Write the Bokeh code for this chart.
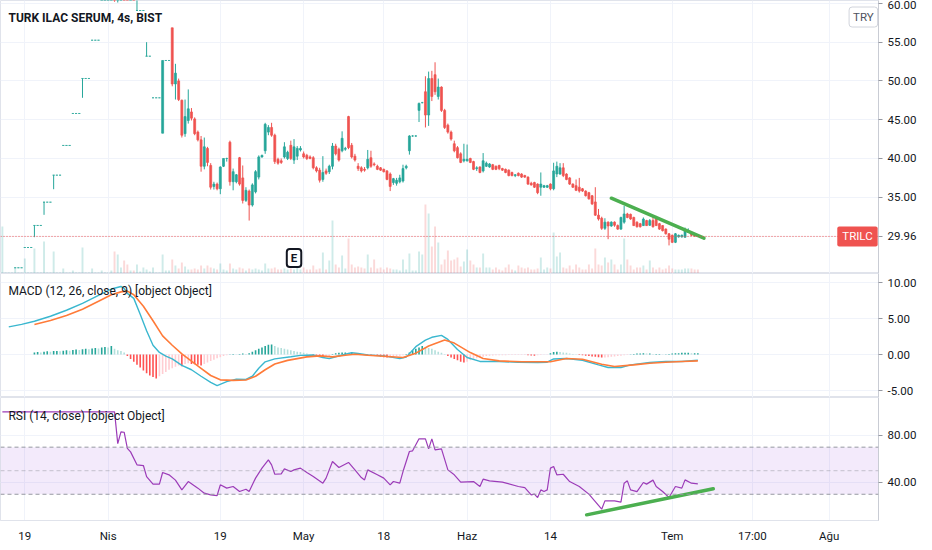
import numpy as np
from bokeh.plotting import figure
from bokeh.models import (ColumnDataSource, Range1d, FixedTicker, NumeralTickFormatter,
                          Span, Label, BoxAnnotation)
from bokeh.layouts import column
from bokeh.embed import file_html
from bokeh.resources import INLINE

# ---------------- data (4h bars, index = bar number) ----------------
open_ = [
    23.56, 23.56, 23.56, 23.56, 25.92, 25.92, 25.92, 28.53, 28.53, 28.53,
    31.37, 31.37, 31.37, 34.37, 34.37, 34.37, 37.85, 37.85, 37.85, 41.68,
    41.68, 41.68, 45.8, 45.8, 45.8, 50.31, 50.31, 50.31, 55.24, 55.24,
    55.24, 60.76, 60.76, 60.76, 61.0, 64.0, 61.0, 62.5, 63.5, 62.5,
    61.8, 62.3, 59.07, 59.07, 59.07, 53.18, 53.18, 47.82, 47.82, 47.82,
    43.26, 52.63, 52.63, 56.84, 49.6, 50.0, 47.5, 43.2, 44.9, 46.0,
    45.1, 43.4, 42.4, 39.0, 41.3, 39.1, 36.4, 36.7, 36.1, 39.0,
    40.0, 42.1, 37.0, 37.0, 40.1, 37.5, 34.6, 35.8, 34.0, 35.7,
    37.6, 40.2, 41.0, 43.4, 44.0, 43.0, 39.9, 39.7, 40.2, 40.0,
    41.7, 39.8, 40.3, 41.1, 40.6, 40.4, 40.2, 40.1, 38.8, 38.5,
    37.3, 38.4, 38.3, 39.0, 41.6, 41.2, 41.0, 41.2, 45.4, 41.7,
    40.3, 39.0, 38.8, 38.6, 38.8, 40.1, 39.3, 39.0, 38.8, 38.6,
    38.4, 38.0, 36.9, 36.8, 37.0, 37.1, 38.8, 41.0, 42.9, 42.9,
    46.2, 47.2, 48.6, 45.6, 50.3, 50.8, 48.0, 49.2, 46.2, 44.3,
    43.4, 41.9, 41.4, 40.6, 39.7, 39.7, 40.0, 39.6, 38.7, 38.9,
    38.4, 39.0, 38.9, 39.2, 39.0, 39.1, 38.7, 38.6, 38.5, 38.2,
    37.8, 38.1, 38.0, 37.8, 37.6, 36.8, 36.9, 36.7, 36.3, 36.3,
    36.3, 36.7, 36.1, 38.0, 38.0, 38.8, 38.0, 37.5, 36.7, 36.5,
    36.3, 36.1, 35.8, 35.6, 35.2, 34.4, 32.7, 32.3, 31.0, 31.8,
    31.3, 31.8, 31.35, 30.9, 31.8, 32.85, 32.8, 32.4, 31.8, 31.6,
    31.35, 32.0, 31.4, 32.0, 32.2, 31.6, 31.35, 30.9, 30.3, 30.1,
    29.2, 29.9, 29.9, 29.85, 30.5, 30.5, 30.3, 30.06,
]
high_ = [
    23.56, 23.56, 23.56, 23.56, 25.92, 25.92, 25.92, 28.53, 28.53, 28.53,
    31.37, 31.37, 31.37, 34.37, 34.37, 34.37, 37.85, 37.85, 37.85, 41.68,
    41.68, 41.68, 45.8, 45.8, 45.8, 50.31, 50.31, 50.31, 55.24, 55.24,
    55.24, 60.76, 60.76, 60.76, 66.8, 65.0, 63.0, 64.0, 64.5, 63.5,
    63.0, 63.0, 62.0, 59.07, 59.07, 54.99, 53.18, 47.82, 47.82, 47.82,
    52.63, 52.63, 52.63, 56.84, 52.2, 50.3, 47.6, 47.6, 48.9, 46.5,
    45.3, 43.6, 42.9, 42.7, 41.5, 39.4, 37.0, 36.9, 39.0, 40.0,
    40.1, 42.3, 38.7, 38.0, 40.2, 39.1, 36.3, 36.0, 36.8, 38.5,
    40.4, 40.5, 44.6, 44.3, 44.6, 43.2, 40.1, 40.0, 42.1, 41.0,
    42.3, 42.5, 41.6, 41.6, 40.9, 40.6, 40.4, 40.3, 39.0, 38.8,
    40.3, 38.7, 39.2, 42.0, 41.9, 41.4, 43.5, 41.5, 45.5, 42.0,
    40.6, 39.4, 39.0, 38.9, 41.1, 41.0, 39.5, 39.2, 38.9, 38.7,
    38.5, 38.2, 37.5, 37.5, 37.9, 39.2, 39.2, 43.0, 43.0, 43.0,
    47.2, 47.3, 50.6, 51.2, 51.3, 52.4, 50.3, 49.3, 46.4, 44.5,
    43.6, 42.3, 41.6, 40.8, 41.9, 41.8, 40.1, 39.7, 39.0, 39.0,
    40.7, 39.6, 39.4, 39.3, 39.1, 39.2, 38.8, 38.7, 38.6, 38.3,
    38.0, 38.2, 38.1, 37.9, 37.7, 37.0, 37.0, 36.8, 38.2, 36.6,
    36.6, 36.8, 39.45, 39.6, 39.4, 39.4, 38.1, 37.6, 36.8, 37.3,
    37.5, 36.2, 35.9, 35.7, 35.3, 36.3, 33.5, 32.5, 32.3, 31.9,
    31.9, 31.9, 31.5, 32.5, 33.9, 33.0, 32.9, 32.5, 31.9, 31.7,
    32.4, 32.1, 32.2, 32.6, 32.6, 31.7, 31.4, 31.0, 30.4, 30.2,
    30.4, 30.2, 30.2, 31.1, 31.0, 30.6, 30.4, 30.1,
]
low_ = [
    23.56, 23.56, 23.56, 23.56, 25.92, 25.92, 25.92, 28.53, 28.53, 28.53,
    29.86, 31.37, 31.37, 32.74, 34.37, 34.37, 36.04, 37.85, 37.85, 41.68,
    41.68, 41.68, 45.8, 45.8, 45.8, 47.82, 50.31, 50.31, 55.24, 55.24,
    55.24, 60.76, 60.76, 60.76, 60.6, 60.2, 60.1, 61.5, 62.0, 61.0,
    61.0, 61.2, 59.07, 59.07, 59.07, 53.18, 53.18, 47.82, 47.82, 47.82,
    43.26, 52.63, 52.63, 49.3, 47.6, 47.4, 42.7, 42.8, 44.5, 44.9,
    43.0, 42.2, 38.3, 38.6, 39.0, 36.0, 36.0, 35.9, 35.4, 38.9,
    39.6, 36.5, 35.9, 36.8, 36.5, 34.2, 34.4, 32.0, 33.8, 35.5,
    37.3, 40.1, 40.6, 43.0, 42.8, 39.3, 39.2, 39.3, 40.0, 39.8,
    39.8, 39.3, 39.8, 40.9, 40.0, 39.8, 39.9, 38.6, 38.2, 36.9,
    37.0, 37.9, 38.0, 38.6, 40.4, 39.6, 40.8, 41.0, 41.2, 40.0,
    39.6, 38.4, 38.2, 38.3, 38.6, 38.8, 39.0, 38.5, 38.4, 38.2,
    37.2, 35.8, 36.6, 36.5, 36.8, 36.9, 38.6, 40.5, 42.8, 42.8,
    44.7, 47.1, 44.0, 44.2, 47.4, 48.2, 47.6, 46.0, 43.8, 43.2,
    42.3, 40.8, 40.0, 39.4, 39.5, 39.6, 39.4, 38.5, 38.4, 38.1,
    38.2, 38.9, 38.8, 38.5, 38.5, 38.5, 38.4, 38.1, 37.7, 37.7,
    37.6, 37.7, 37.5, 37.5, 36.6, 36.5, 36.2, 35.4, 35.2, 36.2,
    36.2, 35.9, 35.9, 37.6, 37.9, 37.6, 37.2, 36.6, 36.2, 35.8,
    35.6, 35.7, 35.1, 34.7, 34.0, 32.6, 32.0, 30.8, 30.8, 29.6,
    31.2, 31.2, 30.8, 30.8, 31.6, 32.3, 32.1, 31.3, 31.1, 31.1,
    31.3, 31.3, 31.3, 31.1, 31.3, 30.8, 30.6, 30.2, 28.8, 29.1,
    29.1, 29.8, 29.8, 29.8, 30.4, 30.0, 29.9, 29.9,
]
close_ = [
    23.56, 23.56, 23.56, 23.56, 25.92, 25.92, 25.92, 28.53, 28.53, 28.53,
    31.37, 31.37, 31.37, 34.37, 34.37, 34.37, 37.85, 37.85, 37.85, 41.68,
    41.68, 41.68, 45.8, 45.8, 45.8, 50.31, 50.31, 50.31, 55.24, 55.24,
    55.24, 60.76, 60.76, 60.76, 64.0, 61.0, 62.5, 63.5, 62.5, 61.8,
    62.3, 61.5, 59.07, 59.07, 59.07, 53.18, 53.18, 47.82, 47.82, 47.82,
    52.63, 52.63, 52.63, 49.6, 51.0, 47.6, 43.0, 45.4, 46.4, 45.2,
    43.2, 42.4, 39.0, 41.5, 39.5, 36.3, 36.7, 36.1, 38.9, 40.0,
    40.0, 37.0, 38.3, 37.9, 36.7, 34.6, 35.9, 34.0, 36.6, 38.3,
    40.2, 40.4, 44.4, 44.0, 43.0, 39.6, 39.4, 39.5, 41.5, 40.8,
    40.0, 41.5, 41.3, 41.3, 40.2, 40.0, 40.0, 38.8, 38.4, 37.2,
    38.2, 38.1, 39.0, 41.6, 40.6, 39.8, 42.6, 41.3, 41.4, 40.2,
    39.8, 38.7, 38.4, 38.5, 39.9, 39.0, 39.2, 38.6, 38.5, 38.3,
    37.3, 36.4, 37.4, 37.2, 37.5, 38.7, 39.0, 42.9, 42.9, 42.9,
    47.1, 47.2, 45.6, 50.3, 48.0, 48.6, 49.2, 46.2, 44.0, 43.4,
    42.5, 41.0, 40.1, 39.5, 39.9, 39.9, 39.5, 38.6, 38.8, 38.2,
    39.7, 39.4, 39.3, 38.6, 38.6, 38.7, 38.5, 38.2, 37.8, 37.8,
    37.9, 37.8, 37.6, 37.6, 36.7, 36.6, 36.3, 35.6, 36.7, 36.5,
    36.5, 36.1, 38.4, 39.0, 38.8, 37.8, 37.3, 36.7, 36.3, 35.9,
    35.8, 35.8, 35.2, 34.8, 34.15, 32.7, 32.2, 31.0, 31.8, 31.3,
    31.8, 31.4, 30.9, 32.4, 32.85, 32.4, 32.2, 31.35, 31.2, 31.2,
    32.2, 31.35, 32.0, 31.2, 31.35, 30.9, 30.7, 30.3, 29.6, 29.2,
    30.3, 30.1, 30.1, 30.7, 30.7, 30.1, 30.0, 29.96,
]
volume = [
    47, 1, 1, 1, 6, 1, 1, 15, 1, 1,
    25, 1, 1, 32, 1, 1, 22, 1, 1, 5,
    1, 1, 3, 1, 1, 26, 1, 1, 5, 1,
    1, 3, 1, 1, 3, 22, 19, 6, 13, 9,
    3, 3, 9, 2, 6, 4, 2, 6, 1, 1,
    19, 3, 3, 14, 8, 5, 11, 7, 4, 4,
    5, 4, 8, 5, 8, 6, 5, 4, 10, 4,
    3, 10, 5, 4, 6, 5, 3, 5, 4, 5,
    4, 3, 10, 5, 5, 6, 4, 4, 5, 4,
    5, 4, 6, 4, 6, 4, 4, 8, 4, 5,
    21, 4, 13, 53, 9, 6, 18, 5, 35, 9,
    6, 7, 6, 5, 19, 6, 14, 5, 6, 4,
    6, 5, 4, 4, 3, 14, 4, 20, 3, 3,
    22, 19, 69, 60, 27, 47, 31, 9, 14, 23,
    13, 14, 16, 7, 12, 24, 13, 9, 6, 6,
    20, 6, 6, 4, 6, 4, 3, 6, 9, 4,
    3, 8, 6, 5, 6, 4, 4, 5, 16, 4,
    6, 5, 41, 17, 21, 6, 5, 8, 4, 9,
    6, 4, 4, 9, 5, 25, 9, 8, 16, 11,
    14, 9, 4, 9, 35, 14, 8, 4, 6, 6,
    8, 4, 13, 6, 4, 6, 4, 5, 8, 5,
    4, 4, 4, 5, 5, 5, 4, 4,
]

# MACD histogram, one value per bar starting at bar 10
hist_start = 10
macd_hist = [
    0.3, 0.35, 0.3, 0.4, 0.45, 0.4, 0.5,
    0.5, 0.45, 0.55, 0.6, 0.55, 0.65, 0.7,
    0.65, 0.75, 0.8, 0.75, 0.85, 0.9, 0.85,
    1.0, 1.05, 1.0, 1.2,
    0.8, 0.6, 0.5, 0.3,
    -0.2, -0.6, -1.0, -1.4, -1.8, -2.2, -2.6, -2.9, -3.1, -3.3,
    -3.0, -2.7, -2.4, -2.1, -1.9, -1.7, -1.5,
    -1.6, -1.3, -1.2, -1.3, -1.35, -1.4, -1.5, -1.3, -1.1,
    -0.9, -0.7, -0.5, -0.35, -0.2, -0.1,
    0.05, 0.1, 0.05, 0.1, 0.15, 0.1,
    0.2, 0.4, 0.6, 0.8, 1.0, 1.2, 1.35, 1.4,
    1.2, 1.0, 0.9, 0.8, 0.7, 0.6, 0.5, 0.4, 0.35, 0.25, 0.15, 0.05,
    -0.1, -0.2, -0.3, -0.35, -0.3, -0.2,
    0.1, 0.2, 0.25, 0.3, 0.3, 0.25, 0.3, 0.2, 0.15, 0.1,
    0.05, -0.05, -0.1, -0.1,
    -0.2, -0.3, -0.35, -0.4, -0.35, -0.3,
    -0.2, -0.15, -0.1,
    0.1, 0.3, 0.6, 0.8, 1.0, 1.2,
    1.0, 0.9, 0.8, 0.6, 0.4, 0.25, 0.1,
    -0.2, -0.4, -0.6, -0.8, -1.0, -1.1,
    -1.0, -0.8, -0.6, -0.5, -0.4, -0.3, -0.2,
    -0.15, -0.12, -0.1, -0.1, -0.08, -0.08, -0.06, -0.06, -0.05, -0.05, -0.05, -0.04, -0.1, -0.12,
    -0.15, -0.1, -0.05, -0.03, -0.02,
    0.2, 0.35, 0.4, 0.35, 0.3,
    0.25, 0.15, 0.1, 0.05,
    -0.05, -0.1, -0.15, -0.2, -0.25, -0.3, -0.35, -0.4, -0.4,
    -0.35, -0.3, -0.25, -0.2, -0.15, -0.1, -0.05,
    0.05, 0.1, 0.15, 0.15, 0.2, 0.15, 0.15, 0.1, 0.1, 0.1, 0.05, 0.05,
    0.1, 0.15, 0.2, 0.2, 0.25, 0.25, 0.25, 0.2, 0.2, 0.2,
]

macd_x = [2, 6, 10, 15, 20, 25, 30, 34, 37, 38, 39, 41, 43, 45, 47, 49, 51, 53, 56, 59,
          62, 65, 67, 70, 73, 76, 78, 80, 82, 85, 90, 93, 97, 100, 102, 104, 107, 109, 111, 114,
          119, 124, 126, 129, 132, 134, 137, 139, 142, 145, 149, 155, 161, 167, 170, 172, 176, 181, 186, 189,
          193, 196, 202, 207, 212, 217]
macd_line = [3.85, 4.2, 4.63, 5.32, 6.15, 7.1, 8.2, 9.1, 9.45, 9.2, 8.5, 7.8, 5.6, 3.3, 1.3, 0.3, -0.2, -0.6, -1.5, -2.1,
             -3.0, -3.85, -4.3, -3.75, -3.4, -3.45, -3.0, -1.9, -1.0, -0.6, -0.3, -0.1, -0.05, -0.4, -0.55, -0.3, 0.05, 0.25, 0.15, -0.05,
             -0.18, -0.55, -0.35, 1.1, 2.0, 2.4, 2.66, 2.1, 0.7, -0.4, -0.95, -0.96, -1.06, -1.1, -1.06, -0.6, -0.55, -0.78, -1.42, -1.79,
             -1.79, -1.42, -1.1, -0.96, -0.96, -0.78]
signal_x = [10, 15, 20, 25, 30, 34, 37, 39, 41, 44, 47, 50, 53, 56, 59, 62, 65, 68, 72, 76,
            79, 82, 85, 89, 95, 99, 103, 107, 110, 114, 119, 125, 129, 133, 138, 141, 146, 150, 155, 162,
            171, 176, 181, 187, 191, 197, 202, 207, 212, 217]
signal_line = [4.17, 4.72, 5.41, 6.3, 7.4, 8.3, 8.7, 8.8, 8.3, 6.7, 4.7, 2.6, 1.3, 0.1, -0.9, -1.9, -2.9, -3.5, -3.58, -3.53,
               -3.0, -2.1, -1.3, -0.8, -0.32, -0.18, -0.32, -0.1, 0.05, -0.09, -0.23, -0.41, 0.2, 1.2, 2.02, 1.6, 0.28, -0.55, -0.87, -1.0,
               -1.0, -0.55, -0.64, -1.33, -1.65, -1.42, -1.19, -1.06, -0.96, -0.87]

rsi_x = [0, 35, 36, 37, 38, 39, 40, 42, 44, 45, 47, 49, 50, 52, 54, 56, 58, 61, 63, 65,
         67, 68, 70, 72, 74, 76, 77, 79, 81, 83, 84, 85, 87, 88, 90, 91, 93, 95, 97, 100,
         101, 103, 105, 108, 110, 112, 113, 114, 117, 119, 121, 122, 124, 125, 127, 128, 130, 132, 133, 134,
         135, 137, 139, 141, 143, 147, 149, 150, 152, 156, 161, 163, 165, 166, 167, 168, 169, 170, 171, 172,
         173, 175, 177, 180, 183, 185, 187, 188, 191, 193, 194, 195, 196, 198, 200, 201, 203, 204, 206, 208,
         210, 212, 213, 215, 217]
rsi_v = [100, 100, 73, 83, 82.7, 69, 66, 55, 54.4, 45, 38.6, 38.6, 48.5, 46.5, 42, 33.7, 40.8, 35.2, 30.9, 29.5,
         28.9, 38, 35.2, 36.6, 32.3, 34.3, 32.3, 43.7, 52.2, 59.2, 55, 47, 47.3, 51.6, 49.3, 50.7, 52.2, 48.5, 45.1, 39.4,
         43.7, 57.8, 52.7, 57, 50.7, 44.2, 42.2, 50.7, 46.5, 43.7, 38, 40.8, 39.4, 49.3, 66.3, 66.9, 77.1, 77.1, 68.6, 77.1,
         67.7, 68.6, 50.7, 46.5, 40.3, 40.8, 36.6, 42.8, 41.4, 40.3, 36.6, 35.7, 29.5, 30.1, 27.2, 33.7, 32.3, 33.7, 52.2, 53.6,
         46.5, 47, 40.8, 36.6, 30.1, 23.8, 17.3, 24.4, 24.4, 23.3, 39.4, 41.4, 33.7, 32.3, 40, 38.6, 42, 36.6, 32.3, 27.2,
         36.6, 35.2, 42.2, 39.4, 38.8]

# hand-drawn trend lines (bar index, value)
trend_price_x = [190.0, 218.9]
trend_price_y = [34.88, 29.73]
trend_rsi_x = [182.3, 221.8]
trend_rsi_y = [12.5, 34.6]

xtick_pos = [7, 33, 68, 94, 119, 145, 171, 209, 234, 258]
xtick_labels = ["19", "Nis", "19", "May", "18", "Haz", "14", "Tem", "17:00", "Ağu"]
last_price = close_[-1]
price_ticks = [last_price, 35, 40, 45, 50, 55, 60]
macd_ticks = [-5, 0, 5, 10]
rsi_ticks = [40, 80]
earnings_bar = 91
symbol = "TRILC"
currency = "TRY"
title_text = "TURK ILAC SERUM, 4s, BIST"
macd_title = "MACD (12, 26, close, 9) [object Object]"
rsi_title = "RSI (14, close) [object Object]"

assert len(open_) == len(high_) == len(low_) == len(close_) == len(volume)
assert len(macd_hist) == len(close_) - hist_start
assert len(macd_x) == len(macd_line) and len(signal_x) == len(signal_line) and len(rsi_x) == len(rsi_v)

# ---------------- styling ----------------
UP = "#26a69a"
DOWN = "#ef5350"
FONT = "Roboto"
TXT = "#131722"
GRID = "#f0f3fa"
SEP = "#e0e3eb"
FW = 878
RIGHT = 54

n = len(close_)
bars = list(range(n))
colors = [UP if c >= o else DOWN for o, c in zip(open_, close_)]
src = ColumnDataSource(dict(
    x=bars, open=open_, high=high_, low=low_, close=close_,
    top=[max(o, c) for o, c in zip(open_, close_)],
    bottom=[min(o, c) for o, c in zip(open_, close_)],
    vol=volume, color=colors,
))

x_range = Range1d(-0.583, 273.36)


def make_fig(frame_h, y_range, yticks, bottom_axis=False):
    p = figure(frame_width=FW, frame_height=frame_h, x_range=x_range, y_range=y_range,
               x_axis_location="below" if bottom_axis else None, y_axis_location="right",
               toolbar_location=None, output_backend="svg",
               min_border_left=0, min_border_right=RIGHT, min_border_top=0,
               min_border_bottom=30 if bottom_axis else 0)
    p.outline_line_color = SEP
    p.background_fill_color = "white"
    p.border_fill_color = "white"
    p.xgrid.ticker = FixedTicker(ticks=xtick_pos)
    p.xgrid.grid_line_color = GRID
    p.ygrid.ticker = FixedTicker(ticks=yticks)
    p.ygrid.grid_line_color = GRID
    ax = p.yaxis[0]
    ax.ticker = FixedTicker(ticks=yticks)
    ax.formatter = NumeralTickFormatter(format="0.00")
    ax.axis_line_color = "#c9ccd4"
    ax.major_tick_line_color = "#9598a1"
    ax.major_tick_out = 4
    ax.major_tick_in = 0
    ax.minor_tick_out = 0
    ax.minor_tick_in = 0
    ax.major_label_standoff = 5
    ax.major_label_text_font = FONT
    ax.major_label_text_font_size = "11.5px"
    ax.major_label_text_color = TXT
    return p


# ---------------- price panel ----------------
pp = make_fig(273, Range1d(25.18, 60.36), price_ticks)
pp.ygrid.ticker = FixedTicker(ticks=[30, 35, 40, 45, 50, 55, 60])
pp.extra_y_ranges = {"vol": Range1d(0, 272.7)}
pp.vbar(x="x", width=0.6, top="vol", bottom=0, y_range_name="vol", source=src,
        fill_color="color", fill_alpha=0.22, line_color=None)
pp.segment(x0="x", y0="low", x1="x", y1="high", line_color="color", line_width=1, source=src)
pp.vbar(x="x", width=0.62, top="top", bottom="bottom", fill_color="color",
        line_color="color", line_width=0.7, source=src)
pp.add_layout(Span(location=last_price, dimension="width", line_color=DOWN,
                   line_dash="1 2", line_width=1))
pp.line(trend_price_x, trend_price_y, line_color="#4caf50", line_width=3.5, line_cap="round")

pp.add_layout(Label(x=1.9, y=58.1, text=title_text, text_font=FONT, text_font_size="12px",
                    text_font_style="bold", text_color=TXT, text_baseline="middle"))
pp.add_layout(Label(x=273.1, y=last_price, text=symbol, text_font=FONT, text_font_size="11.5px",
                    text_color="white", text_baseline="middle", text_align="right",
                    background_fill_color=DOWN, border_radius=2,
                    padding=dict(left=5, right=5, top=3, bottom=3)))
pp.add_layout(Label(x=273.1, y=58.23, text=currency, text_font=FONT, text_font_size="11.5px",
                    text_color="#50535e", text_baseline="middle", text_align="right",
                    background_fill_color="white", border_line_color="#d1d4dc",
                    border_line_width=1, border_radius=3,
                    padding=dict(left=4, right=4, top=3, bottom=3)))
pp.add_layout(Label(x=earnings_bar, y=27.18, text="E", text_font=FONT, text_font_size="11.5px",
                    text_font_style="bold", text_color=TXT, text_baseline="middle",
                    text_align="center", background_fill_color="white",
                    border_line_color=TXT, border_line_width=2, border_radius=3,
                    padding=dict(left=4, right=4, top=2, bottom=2)))

# ---------------- MACD panel ----------------
pm = make_fig(124, Range1d(-5.95, 11.25), macd_ticks)
hx = list(range(hist_start, n))
hcol = []
prev = None
for h in macd_hist:
    if h >= 0:
        hcol.append(UP if (prev is None or h >= prev) else "#b2dfdb")
    else:
        hcol.append("#ff5252" if (prev is None or h < prev) else "#ffcdd2")
    prev = h
pm.vbar(x=hx, width=0.5, top=macd_hist, bottom=0, fill_color=hcol, line_color=None)
pm.line(macd_x, macd_line, line_color="#3ab7cf", line_width=1.4)
pm.line(signal_x, signal_line, line_color="#ff7b39", line_width=1.6)
pm.add_layout(Label(x=1.9, y=8.8, text=macd_title, text_font=FONT, text_font_size="12px",
                    text_color=TXT, text_baseline="middle"))

# ---------------- RSI panel ----------------
pr = make_fig(123, Range1d(7.7, 112.2), rsi_ticks, bottom_axis=True)
pr.add_layout(BoxAnnotation(bottom=30, top=70, fill_color="#9b51e0", fill_alpha=0.12,
                            line_alpha=0, level="underlay"))
for lvl, a in ((70, 1.0), (50, 0.5), (30, 1.0)):
    pr.add_layout(Span(location=lvl, dimension="width", line_color="#9598a1",
                       line_alpha=a, line_dash="4 3", line_width=1))
pr.line(rsi_x, rsi_v, line_color="#9c3cb8", line_width=1.2)
pr.line(trend_rsi_x, trend_rsi_y, line_color="#4caf50", line_width=3.5, line_cap="round")
pr.add_layout(Label(x=1.9, y=96.9, text=rsi_title, text_font=FONT, text_font_size="12px",
                    text_color=TXT, text_baseline="middle"))
xa = pr.xaxis[0]
xa.ticker = FixedTicker(ticks=xtick_pos)
xa.major_label_overrides = {t: lab for t, lab in zip(xtick_pos, xtick_labels)}
xa.axis_line_color = SEP
xa.major_tick_out = 0
xa.major_tick_in = 0
xa.minor_tick_out = 0
xa.minor_tick_in = 0
xa.major_label_standoff = 8
xa.major_label_text_font = FONT
xa.major_label_text_font_size = "11.5px"
xa.major_label_text_color = TXT

layout = column(pp, pm, pr, spacing=0)
open("out.html", "w").write(file_html(layout, INLINE))
